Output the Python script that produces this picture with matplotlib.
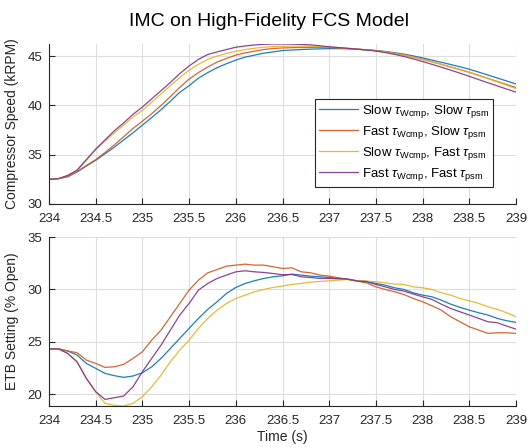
import numpy as np
import matplotlib
matplotlib.use("Agg")
import matplotlib.pyplot as plt

plt.rcParams['font.family'] = ['Liberation Sans', 'DejaVu Sans']
plt.rcParams['mathtext.fontset'] = 'custom'
plt.rcParams['mathtext.rm'] = 'Liberation Sans'
plt.rcParams['mathtext.it'] = 'Liberation Sans:italic'

# ---- data ----
time = [234.0, 234.1, 234.2, 234.3, 234.4, 234.5, 234.6, 234.7, 234.8, 234.9,
        235.0, 235.1, 235.2, 235.3, 235.4, 235.5, 235.6, 235.7, 235.8, 235.9,
        236.0, 236.1, 236.2, 236.3, 236.4, 236.5, 236.6, 236.7, 236.8, 236.9,
        237.0, 237.1, 237.2, 237.3, 237.4, 237.5, 237.6, 237.7, 237.8, 237.9,
        238.0, 238.1, 238.2, 238.3, 238.4, 238.5, 238.6, 238.7, 238.8, 238.9,
        239.0]

speed_slow_slow = [32.5, 32.57, 32.77, 33.25, 33.85, 34.43, 35.1, 35.77, 36.5, 37.23,
                   38.0, 38.77, 39.57, 40.43, 41.33, 42.0, 42.77, 43.33, 43.83, 44.23,
                   44.6, 44.9, 45.1, 45.3, 45.43, 45.57, 45.62, 45.67, 45.71, 45.74,
                   45.76, 45.76, 45.74, 45.7, 45.64, 45.57, 45.47, 45.35, 45.2, 45.02,
                   44.82, 44.6, 44.38, 44.15, 43.92, 43.67, 43.38, 43.08, 42.78, 42.48,
                   42.18]
speed_fast_slow = [32.5, 32.57, 32.77, 33.28, 33.9, 34.5, 35.23, 36.0, 36.83, 37.67,
                   38.4, 39.17, 40.0, 40.9, 41.83, 42.67, 43.33, 43.9, 44.4, 44.77,
                   45.1, 45.33, 45.5, 45.67, 45.77, 45.83, 45.86, 45.88, 45.89, 45.89,
                   45.87, 45.83, 45.77, 45.7, 45.63, 45.55, 45.43, 45.28, 45.1, 44.9,
                   44.67, 44.43, 44.17, 43.9, 43.63, 43.35, 43.05, 42.74, 42.43, 42.12,
                   41.82]
speed_slow_fast = [32.5, 32.57, 32.88, 33.4, 34.45, 35.5, 36.4, 37.23, 38.0, 38.83,
                   39.5, 40.33, 41.17, 42.0, 42.83, 43.57, 44.17, 44.67, 45.0, 45.27,
                   45.5, 45.67, 45.8, 45.9, 45.97, 46.0, 46.01, 46.01, 45.99, 45.96,
                   45.92, 45.86, 45.79, 45.72, 45.64, 45.55, 45.43, 45.28, 45.1, 44.89,
                   44.66, 44.42, 44.17, 43.91, 43.65, 43.38, 43.06, 42.73, 42.4, 42.05,
                   41.7]
speed_fast_fast = [32.5, 32.57, 32.9, 33.43, 34.5, 35.57, 36.5, 37.43, 38.23, 39.1,
                   39.83, 40.67, 41.5, 42.33, 43.23, 44.0, 44.67, 45.17, 45.43, 45.67,
                   45.9, 46.03, 46.13, 46.2, 46.23, 46.23, 46.22, 46.19, 46.14, 46.05,
                   45.95, 45.87, 45.79, 45.71, 45.62, 45.52, 45.36, 45.18, 44.96, 44.72,
                   44.45, 44.17, 43.88, 43.58, 43.27, 42.95, 42.62, 42.3, 41.98, 41.66,
                   41.35]

etb_slow_slow = [24.32, 24.34, 24.13, 23.75, 22.95, 22.48, 22.0, 21.78, 21.62, 21.75,
                 22.06, 22.63, 23.43, 24.38, 25.33, 26.29, 27.24, 28.1, 28.83, 29.62,
                 30.19, 30.57, 30.83, 31.05, 31.21, 31.3, 31.46, 31.37, 31.27, 31.21,
                 31.14, 31.05, 30.98, 30.83, 30.79, 30.57, 30.41, 30.16, 30.0, 29.68,
                 29.46, 29.3, 28.98, 28.6, 28.29, 28.03, 27.78, 27.56, 27.24, 27.02,
                 26.86]
etb_fast_slow = [24.32, 24.36, 24.13, 23.97, 23.27, 22.95, 22.57, 22.63, 22.86, 23.43,
                 24.06, 25.17, 26.13, 27.4, 28.67, 29.94, 30.89, 31.59, 31.9, 32.22,
                 32.32, 32.41, 32.32, 32.32, 32.16, 32.0, 32.06, 31.68, 31.59, 31.37,
                 31.27, 31.11, 30.95, 30.79, 30.63, 30.25, 30.0, 29.78, 29.52, 29.14,
                 28.83, 28.44, 28.03, 27.4, 26.92, 26.44, 26.13, 25.81, 25.87, 25.87,
                 25.81]
etb_slow_fast = [24.32, 24.34, 23.9, 23.1, 21.52, 20.25, 19.14, 18.95, 18.89, 19.14,
                 19.78, 20.73, 21.84, 23.11, 24.22, 25.17, 26.29, 27.24, 28.03, 28.67,
                 29.14, 29.46, 29.78, 30.0, 30.19, 30.32, 30.48, 30.57, 30.7, 30.76,
                 30.83, 30.89, 30.95, 30.83, 30.79, 30.73, 30.63, 30.51, 30.48, 30.25,
                 30.16, 30.0, 29.68, 29.46, 29.14, 28.92, 28.67, 28.35, 28.1, 27.78,
                 27.4]
etb_fast_fast = [24.32, 24.34, 23.9, 23.1, 21.52, 20.25, 19.52, 19.68, 19.84, 20.73,
                 22.16, 23.43, 24.7, 26.13, 27.56, 28.67, 29.94, 30.57, 31.05, 31.37,
                 31.68, 31.78, 31.68, 31.62, 31.52, 31.4, 31.43, 31.21, 31.14, 31.05,
                 31.05, 31.02, 30.98, 30.8, 30.73, 30.48, 30.25, 30.0, 29.84, 29.56,
                 29.3, 29.05, 28.6, 28.19, 27.87, 27.56, 27.24, 26.92, 26.83, 26.51,
                 26.22]

labels = [r'Slow $\tau_{\mathrm{Wcmp}}$, Slow $\tau_{\mathrm{psm}}$',
          r'Fast $\tau_{\mathrm{Wcmp}}$, Slow $\tau_{\mathrm{psm}}$',
          r'Slow $\tau_{\mathrm{Wcmp}}$, Fast $\tau_{\mathrm{psm}}$',
          r'Fast $\tau_{\mathrm{Wcmp}}$, Fast $\tau_{\mathrm{psm}}$']
colors = ['#0072BD', '#D95319', '#EDB120', '#7E2F8E']
xticks = [234, 234.5, 235, 235.5, 236, 236.5, 237, 237.5, 238, 238.5, 239]
xticklabels = ['234', '234.5', '235', '235.5', '236', '236.5', '237', '237.5', '238', '238.5', '239']

W, H = 528, 447
fig = plt.figure(figsize=(W / 100, H / 100), dpi=100)
ax1 = fig.add_axes([49 / W, 1 - 204 / H, 467 / W, 160 / H])
ax2 = fig.add_axes([49 / W, 1 - 406 / H, 467 / W, 169 / H])

axc = '#262626'
fs = 9.5

def style(ax):
    ax.grid(True, color='#dedede', linewidth=0.8)
    ax.set_axisbelow(True)
    for s in ['top', 'right']:
        ax.spines[s].set_visible(False)
    for s in ['left', 'bottom']:
        ax.spines[s].set_color(axc)
        ax.spines[s].set_linewidth(0.8)
    ax.tick_params(direction='in', length=4, width=0.8, color=axc,
                   labelcolor=axc, labelsize=fs, pad=5)
    ax.tick_params(axis='x', pad=6.5)
    ax.set_xlim(234, 239)
    ax.set_xticks(xticks)
    ax.set_xticklabels(xticklabels)

speeds = [speed_slow_slow, speed_fast_slow, speed_slow_fast, speed_fast_fast]
etbs = [etb_slow_slow, etb_fast_slow, etb_slow_fast, etb_fast_fast]

for y, c, l in zip(speeds, colors, labels):
    ax1.plot(time, y, color=c, lw=0.9, alpha=0.9, label=l)
for y, c in zip(etbs, colors):
    ax2.plot(time, y, color=c, lw=0.9, alpha=0.9)

style(ax1)
style(ax2)
ax1.set_ylim(30, max(max(s) for s in speeds))
ax1.set_yticks([30, 35, 40, 45])
ax2.set_ylim(min(min(e) for e in etbs), 35)
ax2.set_yticks([20, 25, 30, 35])

ax1.set_ylabel('Compressor Speed (kRPM)', fontsize=fs + 0.5, color=axc)
ax2.set_ylabel('ETB Setting (% Open)', fontsize=fs + 0.5, color=axc)
ax1.yaxis.set_label_coords(-30 / 467, 0.5)
ax2.yaxis.set_label_coords(-30 / 467, 0.5)
ax2.set_xlabel('Time (s)', fontsize=fs + 0.5, color=axc, labelpad=2)

leg = ax1.legend(loc='lower right', bbox_to_anchor=(0.951, 0.106), fontsize=fs,
                 frameon=True, fancybox=False, framealpha=1, edgecolor=axc,
                 handlelength=3.0, handletextpad=0.25, labelspacing=0.3,
                 borderpad=0.3, borderaxespad=0)
leg.get_frame().set_linewidth(0.8)

fig.text(269 / W, 1 - 22 / H, 'IMC on High-Fidelity FCS Model', ha='center', va='center',
         fontsize=14, color='black')

fig.savefig('out.png', dpi=100)
